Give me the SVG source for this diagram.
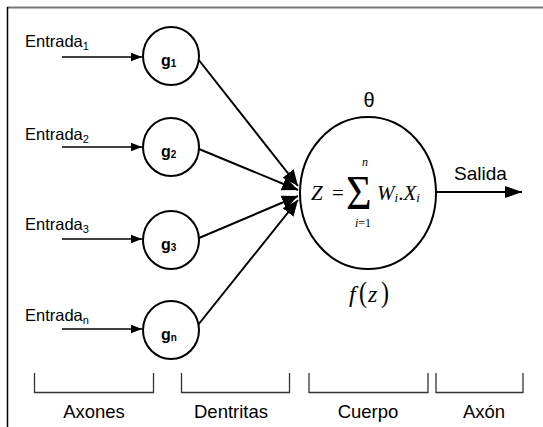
<svg xmlns="http://www.w3.org/2000/svg" width="543" height="427" viewBox="0 0 543 427">
  <style>
    .sans{font-family:"Liberation Sans",Arial,sans-serif;fill:#000}
    .in{font-size:16.5px}
    .sub{font-size:11px}
    .g{font-weight:bold;font-size:16px}
    .gs{font-size:10px}
    .math{font-family:"Liberation Serif","Times New Roman",serif;fill:#000}
    .it{font-style:italic}
    .node{fill:#fff;stroke:#000;stroke-width:2}
    .in-arrow{stroke:#000;stroke-width:1.3;marker-end:url(#hs)}
    .conn{stroke:#000;stroke-width:2;marker-end:url(#hb)}
    .br{fill:none;stroke:#333;stroke-width:1.3}
    .cap{font-size:18.5px}
  </style>
  <defs>
    <marker id="hs" markerUnits="userSpaceOnUse" markerWidth="12" markerHeight="10" refX="11" refY="5" orient="auto">
      <path d="M0,0.8 L11,5 L0,9.2 Z" fill="#000"/>
    </marker>
    <marker id="hb" markerUnits="userSpaceOnUse" markerWidth="17" markerHeight="14" refX="16" refY="7" orient="auto">
      <path d="M0,0 L16,7 L0,14 Z" fill="#000"/>
    </marker>
    <marker id="ho" markerUnits="userSpaceOnUse" markerWidth="18" markerHeight="13" refX="17" refY="6.5" orient="auto">
      <path d="M0,0.5 L17,6.5 L0,12.5 Z" fill="#000"/>
    </marker>
  </defs>

  <!-- frame -->
  <line x1="7" y1="7.5" x2="543" y2="7.5" stroke="#777" stroke-width="2"/>
  <line x1="7.5" y1="7" x2="7.5" y2="427" stroke="#000" stroke-width="1.5"/>

  <!-- input labels -->
  <g id="inputs" class="sans in">
    <text x="25" y="47">Entrada<tspan class="sub" dy="3">1</tspan></text>
    <text x="25" y="140">Entrada<tspan class="sub" dy="3">2</tspan></text>
    <text x="25" y="230">Entrada<tspan class="sub" dy="3">3</tspan></text>
    <text x="25" y="321">Entrada<tspan class="sub" dy="3">n</tspan></text>
  </g>

  <!-- connectors -->
  <g id="connectors">
    <line class="in-arrow" x1="62" y1="57" x2="142" y2="57"/>
    <line class="in-arrow" x1="62" y1="147" x2="142" y2="147"/>
    <line class="in-arrow" x1="62" y1="239" x2="142" y2="239"/>
    <line class="in-arrow" x1="62" y1="329" x2="142" y2="329"/>
    <line class="conn" x1="198" y1="59" x2="298" y2="186"/>
    <line class="conn" x1="199" y1="149" x2="298" y2="190"/>
    <line class="conn" x1="199" y1="238" x2="298" y2="196"/>
    <line class="conn" x1="198" y1="325" x2="298" y2="200"/>
    <line x1="436" y1="192" x2="522" y2="192" stroke="#000" stroke-width="2" marker-end="url(#ho)"/>
  </g>

  <!-- weight nodes -->
  <g id="g1">
    <ellipse class="node" cx="171" cy="56" rx="28" ry="29"/>
    <text class="sans g" x="161" y="66">g<tspan class="gs" dy="1">1</tspan></text>
  </g>
  <g id="g2">
    <ellipse class="node" cx="171" cy="147" rx="28" ry="29"/>
    <text class="sans g" x="161" y="157">g<tspan class="gs" dy="1">2</tspan></text>
  </g>
  <g id="g3">
    <ellipse class="node" cx="171" cy="240" rx="28" ry="29"/>
    <text class="sans g" x="161" y="250">g<tspan class="gs" dy="1">3</tspan></text>
  </g>
  <g id="gn">
    <ellipse class="node" cx="171" cy="330" rx="28" ry="29"/>
    <text class="sans g" x="161" y="340">g<tspan class="gs" dy="1">n</tspan></text>
  </g>

  <!-- cell body -->
  <g id="body">
    <text class="sans" x="369" y="107" font-size="20" text-anchor="middle">θ</text>
    <ellipse class="node" cx="368" cy="193" rx="68" ry="76"/>
    <text class="math it" x="311" y="200" font-size="21">Z</text>
    <text class="math" x="332" y="200" font-size="21">=</text>
    <text class="math" x="346" y="0" font-size="44" transform="translate(0,209) scale(1,1.12)">Σ</text>
    <text class="math it" x="362" y="166" font-size="12">n</text>
    <text class="math" x="355" y="227" font-size="12"><tspan font-style="italic">i</tspan>=1</text>
    <text class="math" x="377" y="200" font-size="21"><tspan font-style="italic">W</tspan><tspan font-style="italic" font-size="13" dy="2">i</tspan><tspan dy="-2">.</tspan><tspan font-style="italic">X</tspan><tspan font-style="italic" font-size="13" dy="2">i</tspan></text>
    <text class="math it" x="349" y="302" font-size="24">f</text>
    <text class="math" x="359" y="0" font-size="24" transform="translate(0,302) scale(1,1.2)">(</text>
    <text class="math it" x="368" y="302" font-size="24">z</text>
    <text class="math" x="381" y="0" font-size="24" transform="translate(0,302) scale(1,1.2)">)</text>
  </g>

  <!-- output -->
  <g id="output">
    <text class="sans" x="454" y="180" font-size="19">Salida</text>
  </g>

  <!-- section brackets -->
  <g id="sections">
    <path class="br" d="M34.5,373 V392.5 H153.5 V373"/>
    <path class="br" d="M181.5,373 V392.5 H289.5 V373"/>
    <path class="br" d="M309,373 V392.5 H428 V373"/>
    <path class="br" d="M436,373 V392.5 H523 V373"/>
    <g class="sans cap" text-anchor="middle">
      <text x="94" y="418">Axones</text>
      <text x="231" y="418">Dentritas</text>
      <text x="368" y="418">Cuerpo</text>
      <text x="484" y="418">Axón</text>
    </g>
  </g>
</svg>
